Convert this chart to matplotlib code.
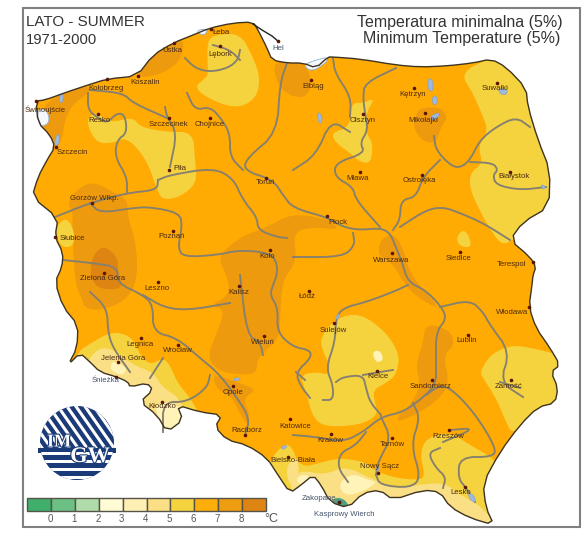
#!/usr/bin/env python3
# Poland summer minimum temperature map, redrawn with image pixel coordinates as data units

import matplotlib
matplotlib.use("Agg")
import matplotlib.pyplot as plt
import matplotlib.patheffects as pe
from matplotlib.patches import Polygon, Circle, Rectangle

plt.rcParams['font.family'] = ['Liberation Sans', 'DejaVu Sans']

# ---- class colours
legend_colors = ['#3FAF6B', '#6CC084', '#B0DCAB', '#FFFBD5', '#FEF0B4',
                 '#FADF84', '#F5D33F', '#FDAE0B', '#EE9C10', '#DD8413']
legend_ticks = ['0', '1', '2', '3', '4', '5', '6', '7', '8']
BASE, DARK, DARKEST = '#FFAB03', '#EE9A0E', '#DD8413'
YEL, PALE, PALER = '#F5D33F', '#FADF84', '#FFF3B8'

# ---- country outline
poland = [(36, 101), (45, 100), (67, 92), (88, 85), (107, 79), (137, 76), (153, 55), (173, 43), (193, 35),
          (210, 28), (233, 23), (253, 22), (258, 30), (267, 48), (272, 60), (287, 63), (303, 63), (316, 68),
          (328, 57), (333, 57), (360, 59), (396, 65), (420, 67), (446, 66), (473, 63), (491, 59), (506, 67),
          (526, 88), (528, 107), (538, 140), (550, 170), (549, 207), (523, 222), (510, 240), (530, 257),
          (536, 267), (533, 275), (532, 285), (529, 307), (536, 328), (550, 348), (560, 365), (551, 372),
          (558, 388), (555, 403), (538, 407), (520, 425), (500, 452), (483, 483), (486, 508), (494, 525),
          (470, 518), (450, 507), (440, 492), (423, 490), (393, 500), (380, 490), (363, 493), (348, 508),
          (330, 502), (321, 485), (313, 475), (301, 485), (290, 493), (278, 475), (267, 458), (247, 445),
          (227, 440), (215, 427), (222, 415), (200, 412), (177, 405), (183, 420), (167, 432), (157, 415),
          (140, 402), (153, 390), (147, 383), (130, 387), (128, 382), (117, 377), (100, 372), (90, 362),
          (80, 353), (68, 365), (77, 348), (78, 325), (63, 307), (55, 282), (62, 267), (63, 253), (55, 237),
          (58, 218), (32, 197), (38, 177), (47, 160), (55, 147), (50, 135), (38, 123)]

# ---- temperature zones
zones_dark = [
    [(45, 100), (88, 85), (90, 92), (72, 105), (65, 120), (62, 140), (52, 155), (36, 130)],
    [(133, 78), (150, 50), (173, 40), (185, 40), (180, 62), (160, 75)],
    [(272, 60), (303, 60), (313, 83), (306, 97), (293, 97), (278, 87)],
    [(80, 187), (93, 182), (110, 190), (128, 200), (127, 213), (137, 247), (137, 285), (120, 305), (87, 312),
     (80, 295), (75, 282), (72, 227), (73, 213), (67, 202)],
    [(217, 257), (240, 237), (267, 227), (293, 213), (330, 220), (340, 230), (313, 227), (293, 232), (297, 262),
     (282, 280), (280, 325), (278, 340), (257, 358), (257, 372), (247, 375), (220, 372), (207, 358), (217, 332),
     (225, 310), (210, 305), (230, 295), (227, 275)],
    [(213, 375), (225, 378), (240, 383), (257, 390), (243, 398), (250, 415), (247, 425), (238, 410), (232, 397),
     (222, 393), (215, 385)],
    [(380, 240), (393, 233), (403, 247), (410, 275), (440, 308), (430, 305), (408, 290), (392, 262), (378, 256)],
    [(426, 323), (450, 330), (455, 345), (443, 355), (450, 385), (433, 405), (400, 422), (396, 418), (413, 402),
     (420, 385), (416, 365), (423, 342)],
    [(420, 108), (440, 107), (448, 117), (441, 127), (436, 143), (423, 142), (413, 127), (416, 115)],
]
zones_darkest = [
    [(92, 257), (103, 245), (118, 257), (118, 275), (123, 285), (115, 290), (97, 288), (90, 275)],
]
zones_yellow = [
    [(207, 43), (213, 35), (240, 33), (253, 57), (260, 77), (257, 97), (240, 108), (217, 103), (193, 88),
     (207, 77), (208, 72)],
    [(88, 117), (97, 113), (110, 123), (133, 117), (140, 127), (167, 132), (193, 132), (195, 160), (197, 183),
     (180, 197), (163, 200), (157, 190), (147, 160), (127, 137), (113, 143), (97, 143), (88, 127)],
    [(55, 227), (67, 217), (75, 233), (73, 247), (60, 247)],
    [(460, 73), (490, 58), (506, 50), (545, 100), (565, 167), (560, 207), (526, 230), (506, 245), (497, 240),
     (483, 217), (470, 190), (470, 173), (483, 163), (478, 147), (488, 130), (483, 117), (473, 93)],
    [(331, 133), (350, 127), (351, 103), (363, 103), (375, 98), (366, 113), (366, 133), (373, 143), (371, 163),
     (360, 162), (350, 153), (336, 143)],
    [(456, 237), (465, 228), (473, 247), (460, 247)],
    [(320, 338), (336, 318), (360, 313), (386, 332), (400, 355), (396, 375), (386, 383), (373, 390), (375, 403),
     (378, 415), (360, 425), (326, 427), (313, 418), (306, 392), (300, 375), (316, 372), (328, 375), (330, 365),
     (323, 352)],
    [(480, 372), (490, 355), (510, 345), (533, 348), (570, 358), (570, 395), (560, 415), (538, 412), (513, 435),
     (506, 422), (496, 398), (483, 378)],
    [(277, 450), (290, 442), (300, 468), (323, 462), (340, 458), (366, 462), (373, 470), (395, 478), (420, 480),
     (425, 475), (420, 455), (426, 438), (450, 432), (470, 445), (493, 458), (500, 470), (500, 535), (400, 535),
     (300, 535), (265, 470)],
    [(77, 352), (93, 342), (105, 335), (117, 332), (133, 338), (140, 355), (150, 365), (163, 358), (170, 365),
     (177, 382), (190, 398), (200, 415), (175, 440), (130, 410), (75, 370)],
]
zones_pale = [
    [(288, 482), (300, 470), (325, 475), (345, 466), (370, 478), (395, 488), (425, 484), (445, 483), (460, 495),
     (480, 505), (500, 530), (440, 525), (350, 525), (300, 505)],
    [(90, 355), (107, 345), (133, 365), (153, 372), (163, 388), (180, 398), (188, 425), (165, 440), (130, 405),
     (85, 375)],
    [(285, 470), (295, 455), (300, 470), (292, 490)],
]
zones_paler = [
    [(338, 484), (352, 473), (368, 480), (378, 482), (362, 492), (345, 496)],
    [(155, 403), (178, 403), (184, 422), (167, 434), (158, 418)],
    [(296, 478), (304, 474), (312, 478), (300, 486)],
    [(112, 360), (128, 368), (122, 376), (110, 370)],
    [(372, 352), (380, 350), (384, 360), (376, 363)],
]
tatra = [(330, 503), (336, 497), (346, 500), (350, 510), (340, 511)]

# ---- rivers
rivers = [
    [(293, 435), (316, 437), (343, 442), (363, 432), (381, 417), (403, 412), (420, 400), (436, 385), (436, 362),
     (436, 332), (447, 318), (440, 305), (425, 290), (408, 282), (402, 262), (395, 245), (390, 233), (380, 228),
     (360, 230), (343, 227), (326, 217), (293, 208), (283, 195), (273, 180), (243, 170), (248, 157), (277, 133),
     (280, 83), (287, 63)],
    [(158, 180), (170, 175), (213, 168), (233, 178), (243, 200), (257, 217), (258, 230), (277, 237), (287, 238)],
    [(187, 93), (195, 110), (210, 107), (220, 117), (230, 133), (230, 157), (243, 170)],
    [(170, 167), (177, 133), (167, 117), (165, 107)],
    [(90, 90), (123, 93), (133, 103), (167, 118)],
    [(88, 93), (88, 110), (98, 118), (107, 123), (117, 113), (125, 115), (127, 133), (117, 140), (115, 157),
     (127, 177), (127, 193)],
    [(55, 217), (90, 203), (127, 193), (157, 190), (158, 180)],
    [(90, 203), (100, 213), (133, 208), (150, 207), (180, 213), (182, 227), (178, 247), (183, 257), (217, 255),
     (240, 250), (270, 253), (277, 263), (277, 275), (273, 285), (270, 295), (278, 308), (277, 332), (293, 347),
     (310, 350), (311, 358), (296, 372), (300, 385), (310, 398)],
    [(240, 275), (247, 335), (260, 342), (263, 355)],
    [(408, 285), (393, 292), (366, 302), (343, 308), (336, 318), (335, 342), (326, 368), (333, 385), (333, 400),
     (323, 400)],
    [(336, 382), (343, 377), (363, 375), (366, 388), (370, 402), (381, 415)],
    [(363, 375), (380, 372), (393, 370)],
    [(440, 307), (470, 300), (483, 312), (490, 325), (510, 352), (500, 382), (523, 397)],
    [(426, 395), (440, 385), (453, 390), (476, 415), (496, 448), (493, 457), (460, 457), (458, 478), (466, 488),
     (475, 502)],
    [(413, 403), (420, 418), (411, 445), (421, 478), (410, 488), (380, 485), (376, 475)],
    [(381, 417), (391, 438), (378, 462), (376, 475)],
    [(443, 442), (476, 428), (450, 430)],
    [(440, 448), (428, 453), (436, 468), (446, 477), (443, 488)],
    [(366, 432), (356, 445), (340, 453), (338, 468), (348, 482)],
    [(530, 127), (516, 117), (496, 127), (480, 140), (470, 160), (460, 168), (450, 165), (436, 150), (434, 136)],
    [(470, 162), (493, 163), (498, 170), (493, 175), (496, 185), (520, 190), (546, 187)],
    [(440, 160), (423, 177), (416, 197), (401, 200), (400, 220), (393, 230)],
    [(400, 227), (426, 210), (443, 207), (460, 213), (483, 223), (510, 240)],
    [(380, 227), (356, 200), (353, 187), (335, 177), (335, 163), (365, 153), (360, 143), (368, 130), (365, 113),
     (363, 97), (365, 83), (396, 68)],
    [(333, 58), (335, 73), (351, 97), (350, 117)],
    [(293, 170), (316, 155), (331, 120), (350, 132)],
    [(293, 257), (343, 257), (355, 245), (353, 233)],
    [(245, 435), (250, 418), (233, 392), (217, 372), (200, 358), (177, 338), (153, 332), (153, 305), (143, 295),
     (117, 283), (118, 267), (92, 263), (63, 260)],
    [(143, 295), (165, 308), (190, 310), (230, 303)],
    [(90, 292), (107, 308), (108, 332), (113, 348), (130, 372)],
    [(210, 375), (207, 388), (187, 402), (163, 402), (163, 432)],
    [(163, 358), (150, 378)],
    [(240, 50), (238, 60), (228, 68), (210, 72), (195, 68), (185, 58)],
    [(213, 45), (230, 50), (240, 60)],
    [(500, 382), (520, 388)],
    [(305, 380), (296, 372)],
]

# ---- lakes and lagoons
lakes_white = [
    [(38, 108), (47, 110), (50, 122), (42, 127), (38, 122)],
    [(303, 65), (316, 60), (328, 57), (327, 62), (312, 72)],
    [(197, 30), (208, 29), (205, 35), (199, 34)],
]
lakes_blue = [
    [(57, 133), (60, 137), (58, 146), (54, 145)],
    [(60, 95), (63, 93), (63, 102), (59, 103)],
    [(428, 78), (433, 80), (433, 92), (428, 90)],
    [(433, 95), (438, 98), (436, 106), (432, 103)],
    [(430, 116), (440, 112), (438, 118), (432, 121)],
    [(498, 88), (508, 90), (506, 95), (500, 94)],
    [(317, 112), (322, 115), (322, 122), (319, 124)],
    [(335, 318), (340, 312), (338, 320)],
    [(378, 465), (379, 472), (376, 470)],
    [(468, 493), (474, 495), (476, 503), (470, 500)],
    [(541, 184), (546, 187), (543, 190)],
    [(234, 378), (240, 378), (240, 380), (234, 381)],
    [(280, 447), (288, 445), (284, 450)],
]

# ---- towns: name, label position, marker position
towns = ['Hel', 'Łeba', 'Lębork', 'Ustka', 'Koszalin', 'Kołobrzeg', 'Świnoujście', 'Resko', 'Szczecinek', 'Chojnice',
         'Szczecin', 'Piła', 'Toruń', 'Gorzów Wlkp.', 'Słubice', 'Poznań', 'Koło', 'Zielona Góra', 'Leszno', 'Kalisz',
         'Wieluń', 'Legnica', 'Wrocław', 'Jelenia Góra', 'Śnieżka', 'Kłodzko', 'Opole', 'Racibórz', 'Katowice',
         'Bielsko-Biała', 'Kraków', 'Tarnów', 'Nowy Sącz', 'Zakopane', 'Kasprowy Wierch', 'Rzeszów', 'Lesko',
         'Sandomierz', 'Zamość', 'Lublin', 'Włodawa', 'Terespol', 'Siedlce', 'Warszawa', 'Płock', 'Łódź', 'Sulejów',
         'Kielce', 'Ostrołęka', 'Mława', 'Białystok', 'Suwałki', 'Kętrzyn', 'Mikołajki', 'Olsztyn', 'Elbląg']
label_xy = [(278, 48), (222, 33), (220, 54), (172, 51), (145, 83), (106, 88), (45, 110), (99, 121), (168, 125),
            (210, 125), (72, 152), (180, 169), (266, 183), (94, 199), (72, 238), (172, 237), (267, 256), (103, 279),
            (157, 289), (239, 292), (263, 342), (140, 344), (178, 351), (123, 358), (106, 381), (162, 407), (233, 392),
            (247, 430), (295, 426), (293, 461), (330, 441), (392, 445), (380, 467), (319, 498), (344, 515), (448, 436),
            (461, 493), (431, 386), (509, 386), (467, 341), (512, 312), (512, 264), (459, 258), (391, 260), (338, 222),
            (307, 297), (333, 330), (378, 377), (419, 181), (358, 178), (514, 176), (495, 89), (413, 94), (423, 120),
            (363, 120), (313, 86)]
marker_xy = [(278, 41), (211, 29), (220, 46), (174, 43), (138, 76), (107, 79), (36, 101), (98, 114), (169, 118),
             (210, 118), (56, 147), (169, 170), (266, 178), (92, 203), (55, 237), (173, 231), (270, 250), (104, 273),
             (158, 282), (239, 286), (264, 336), (141, 338), (178, 345), (118, 362), (116, 377), (162, 402), (233, 386),
             (245, 435), (290, 419), (288, 457), (331, 434), (392, 438), (378, 473), (339, 502), (339, 502), (449, 430),
             (465, 487), (432, 380), (511, 380), (468, 335), (529, 307), (533, 262), (460, 252), (392, 253), (327, 216),
             (309, 291), (334, 323), (377, 371), (422, 175), (360, 172), (510, 172), (497, 83), (414, 88), (425, 113),
             (363, 114), (311, 80)]


def chaikin(pts, n=2, closed=True):
    # corner cutting so the hand read outlines lose their sharp bends
    for _ in range(n):
        out = [pts[0]] if not closed else []
        m = len(pts) if closed else len(pts) - 1
        for i in range(m):
            a, b = pts[i], pts[(i + 1) % len(pts)]
            out.append((0.75 * a[0] + 0.25 * b[0], 0.75 * a[1] + 0.25 * b[1]))
            out.append((0.25 * a[0] + 0.75 * b[0], 0.25 * a[1] + 0.75 * b[1]))
        if not closed:
            out.append(pts[-1])
        pts = out
    return pts


fig = plt.figure(figsize=(5.87, 5.51), dpi=100)
ax = fig.add_axes([0, 0, 1, 1])
ax.set_xlim(0, 587)
ax.set_ylim(551, 0)
ax.axis('off')

# frame
ax.add_patch(Rectangle((23, 8), 557, 519, fc='white', ec='#808080', lw=1.5, zorder=0))

# map body and clipped zones
outline = chaikin(poland, 1)
land = Polygon(outline, closed=True, fc=BASE, ec='none', zorder=1)
ax.add_patch(land)
for polys, col in [(zones_dark, DARK), (zones_darkest, DARKEST), (zones_yellow, YEL), (zones_pale, PALE),
                   (zones_paler, PALER), ([tatra], '#4E9E86')]:
    for p in polys:
        z = Polygon(chaikin(p), closed=True, fc=col, ec='none', zorder=2)
        ax.add_patch(z)
        z.set_clip_path(land)

for r in rivers:
    s = chaikin(r, 2, closed=False)
    ax.plot([q[0] for q in s], [q[1] for q in s], color='#85806F', lw=1.35, zorder=3, solid_joinstyle='round')

for p in lakes_white:
    ax.add_patch(Polygon(chaikin(p), closed=True, fc='#F4F8FC', ec='#8FB0D0', lw=0.6, zorder=4))
for p in lakes_blue:
    ax.add_patch(Polygon(chaikin(p), closed=True, fc='#9DB9DE', ec='#7F9CC4', lw=0.4, zorder=4))

# border and Hel spit
ax.add_patch(Polygon(outline, closed=True, fc='none', ec='#3E3420', lw=1.0, zorder=5))
ax.plot([253, 262, 272, 279], [24, 30, 36, 42], color='#222222', lw=1.0, zorder=5)

for name, (lx, ly), (mx, my) in zip(towns, label_xy, marker_xy):
    ax.plot(mx, my, 'o', ms=2.6, color='#5A1505', mec='none', zorder=6)
    col = '#44546A' if name in ('Hel', 'Śnieżka', 'Kasprowy Wierch', 'Zakopane') else '#4A2A10'
    ax.text(lx, ly, name, fontsize=5.6, color=col, ha='center', va='center', zorder=7)

# titles
ax.text(26, 22, 'LATO - SUMMER', fontsize=10.9, color='#333333', ha='left', va='center', zorder=7)
ax.text(26, 40, '1971-2000', fontsize=10.6, color='#333333', ha='left', va='center', zorder=7)
ax.text(563, 22, 'Temperatura minimalna (5%)', fontsize=11.5, color='#333333', ha='right', va='center', zorder=7)
ax.text(560, 39, 'Minimum Temperature (5%)', fontsize=11.5, color='#333333', ha='right', va='center', zorder=7)

# IMGW logo
NAVY = '#1B3A78'
disc = Circle((77, 443), 37, fc=NAVY, ec='none', zorder=2)
ax.add_patch(disc)
for i in range(-2, 13):
    ln, = ax.plot([30 + i * 9, 60 + i * 9], [405, 448], color='white', lw=2.2, zorder=3)
    ln.set_clip_path(disc)
ax.add_patch(Rectangle((38, 448), 78, 5, fc=NAVY, ec='none', zorder=3))
for y in (448, 456, 464, 472):
    bar = Rectangle((38, y + 3.5), 78, 3.0, fc='white', ec='none', zorder=3)
    ax.add_patch(bar)
    bar.set_clip_path(disc)
outline_fx = [pe.withStroke(linewidth=1.6, foreground=NAVY)]
ax.text(59, 442, 'IM', fontsize=13, family='Liberation Serif', weight='bold', color='white', ha='center', va='center',
        zorder=4, path_effects=outline_fx)
ax.text(90, 457, 'GW', fontsize=16, family='Liberation Serif', weight='bold', color='white', ha='center', va='center',
        zorder=4, path_effects=outline_fx)

# legend bar
x0, w = 27.3, 23.85
for i, c in enumerate(legend_colors):
    ax.add_patch(Rectangle((x0 + i * w, 497.5), w, 13.5, fc=c, ec='#55534A', lw=1.0, zorder=2))
for i, t in enumerate(legend_ticks):
    ax.text(x0 + (i + 1) * w - 1, 518.5, t, fontsize=7, color='#555555', ha='center', va='center')
ax.text(271, 518.5, '°C', fontsize=9, color='#555555', ha='center', va='center')

fig.savefig('out.png', dpi=100, facecolor='white')
